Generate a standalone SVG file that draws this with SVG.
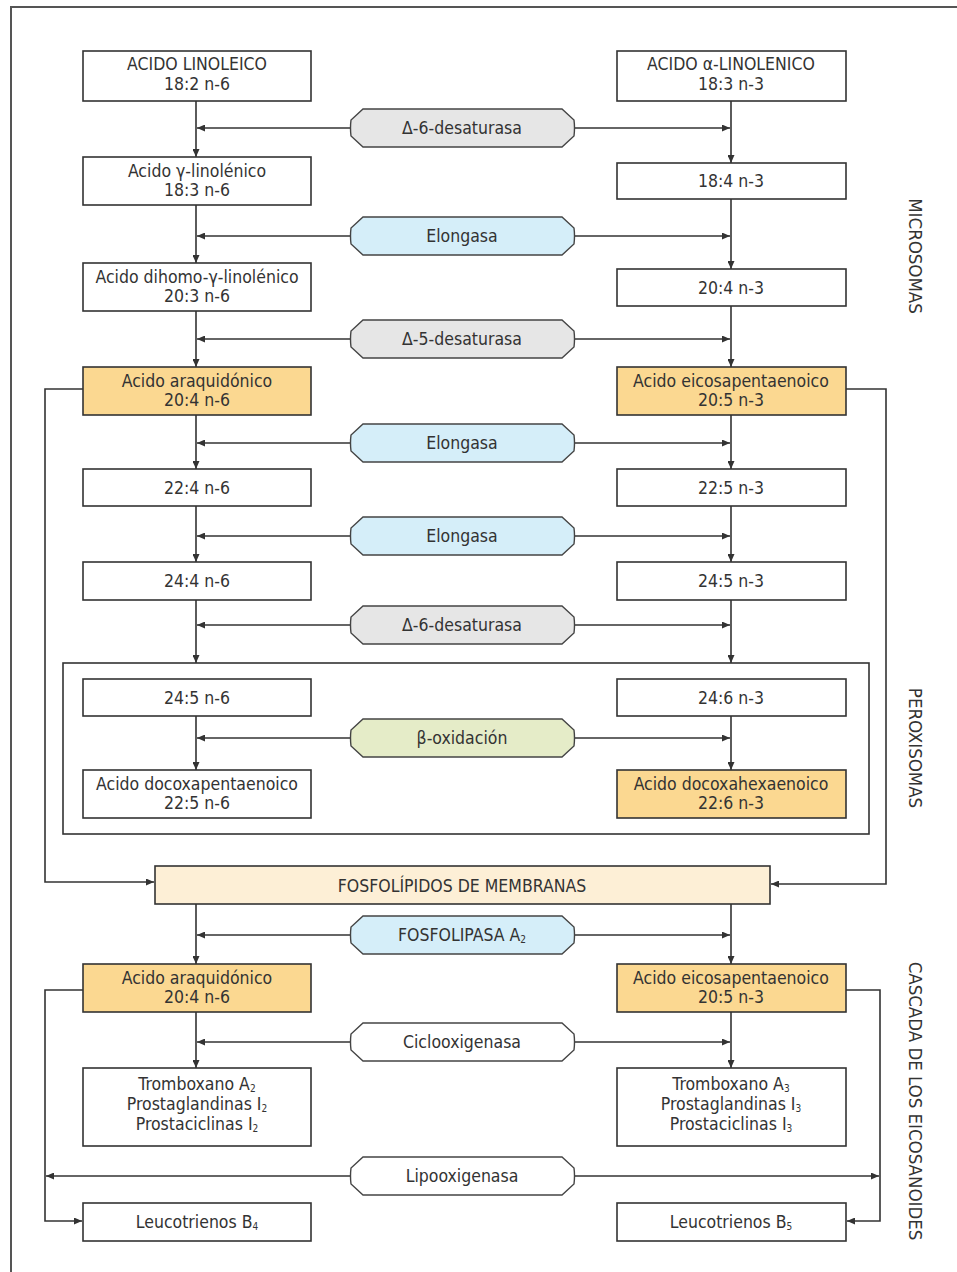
<svg xmlns="http://www.w3.org/2000/svg" width="957" height="1272" viewBox="0 0 957 1272">
<defs>
<marker id="ah" markerUnits="userSpaceOnUse" markerWidth="9" markerHeight="7" refX="8" refY="3.5" orient="auto"><path d="M0,0 L8,3.5 L0,7 Z" fill="#333"/></marker>
<style>
text{font-family:"Liberation Sans Narrow","DejaVu Sans Condensed","Liberation Sans",sans-serif;fill:#333;font-size:17.5px;text-anchor:middle}
.box{fill:#fff;stroke:#333;stroke-width:1.6}
.or{fill:#fbd891;stroke:#333;stroke-width:1.6}
.fos{fill:#fdefd6;stroke:#333;stroke-width:1.6}
.enz{stroke:#444;stroke-width:1.4}
.g{fill:#e6e6e6}.b{fill:#d5eef9}.gr{fill:#e5ecc8}.w{fill:#fff}
.c{fill:none;stroke:#333;stroke-width:1.6}
.a{marker-end:url(#ah)}
.side{font-size:18.5px;text-anchor:middle}
.sub{font-size:10px}
</style>
<path id="enzShape" d="M12,-19 L211,-19 L223,-8 Q224,0 223,8 L211,19 L12,19 L0,8 Q-1,0 0,-8 Z"/>
</defs>
<rect x="11" y="7" width="960" height="1280" fill="#fff" stroke="#555" stroke-width="2"/>

<g id="connectors">
<path class="c a" d="M196,101 V157"/>
<path class="c a" d="M196,205 V263"/>
<path class="c a" d="M196,311 V367"/>
<path class="c a" d="M196,415 V469"/>
<path class="c a" d="M196,506 V562"/>
<path class="c a" d="M196,600 V663"/>
<path class="c a" d="M196,716 V770"/>
<path class="c a" d="M196,904 V964"/>
<path class="c a" d="M196,1012 V1068"/>
<path class="c a" d="M731,101 V163"/>
<path class="c a" d="M731,199 V269"/>
<path class="c a" d="M731,306 V367"/>
<path class="c a" d="M731,415 V469"/>
<path class="c a" d="M731,506 V562"/>
<path class="c a" d="M731,600 V663"/>
<path class="c a" d="M731,716 V770"/>
<path class="c a" d="M731,904 V964"/>
<path class="c a" d="M731,1012 V1068"/>
<path class="c a" d="M351,128 H197"/><path class="c a" d="M574,128 H730"/>
<path class="c a" d="M351,236 H197"/><path class="c a" d="M574,236 H730"/>
<path class="c a" d="M351,339 H197"/><path class="c a" d="M574,339 H730"/>
<path class="c a" d="M351,443 H197"/><path class="c a" d="M574,443 H730"/>
<path class="c a" d="M351,536 H197"/><path class="c a" d="M574,536 H730"/>
<path class="c a" d="M351,625 H197"/><path class="c a" d="M574,625 H730"/>
<path class="c a" d="M351,738 H197"/><path class="c a" d="M574,738 H730"/>
<path class="c a" d="M351,935 H197"/><path class="c a" d="M574,935 H730"/>
<path class="c a" d="M351,1042 H197"/><path class="c a" d="M574,1042 H730"/>
<path class="c a" d="M351,1176 H46"/><path class="c a" d="M574,1176 H879"/>
<path class="c a" d="M83,389 H45 V882 H154"/>
<path class="c a" d="M846,389 H886 V884 H771"/>
<path class="c a" d="M83,990 H45 V1221 H82"/>
<path class="c a" d="M846,990 H880 V1221 H847"/>
</g>

<g id="peroxisome-frame"><rect x="63" y="663" width="806" height="171" fill="none" stroke="#333" stroke-width="1.6"/></g>

<g id="n-linoleico"><rect class="box" x="83" y="51" width="228" height="50"/><text x="197" y="70">ACIDO LINOLEICO</text><text x="197" y="90">18:2 n-6</text></g>
<g id="n-alinolenico"><rect class="box" x="617" y="51" width="229" height="50"/><text x="731" y="70">ACIDO α-LINOLENICO</text><text x="731" y="90">18:3 n-3</text></g>
<g id="n-glinolenico"><rect class="box" x="83" y="157" width="228" height="48"/><text x="197" y="177">Acido γ-linolénico</text><text x="197" y="196">18:3 n-6</text></g>
<g id="n-184"><rect class="box" x="617" y="163" width="229" height="36"/><text x="731" y="187">18:4 n-3</text></g>
<g id="n-dihomo"><rect class="box" x="83" y="263" width="228" height="48"/><text x="197" y="283">Acido dihomo-γ-linolénico</text><text x="197" y="302">20:3 n-6</text></g>
<g id="n-204n3"><rect class="box" x="617" y="269" width="229" height="37"/><text x="731" y="293.5">20:4 n-3</text></g>
<g id="n-araq1"><rect class="or" x="83" y="367" width="228" height="48"/><text x="197" y="387">Acido araquidónico</text><text x="197" y="406">20:4 n-6</text></g>
<g id="n-epa1"><rect class="or" x="617" y="367" width="229" height="48"/><text x="731" y="387">Acido eicosapentaenoico</text><text x="731" y="406">20:5 n-3</text></g>
<g id="n-224"><rect class="box" x="83" y="469" width="228" height="37"/><text x="197" y="493.5">22:4 n-6</text></g>
<g id="n-225n3"><rect class="box" x="617" y="469" width="229" height="37"/><text x="731" y="493.5">22:5 n-3</text></g>
<g id="n-244"><rect class="box" x="83" y="562" width="228" height="38"/><text x="197" y="587">24:4 n-6</text></g>
<g id="n-245n3"><rect class="box" x="617" y="562" width="229" height="38"/><text x="731" y="587">24:5 n-3</text></g>
<g id="n-245n6"><rect class="box" x="83" y="679" width="228" height="37"/><text x="197" y="703.5">24:5 n-6</text></g>
<g id="n-246"><rect class="box" x="617" y="679" width="229" height="37"/><text x="731" y="703.5">24:6 n-3</text></g>
<g id="n-dpa"><rect class="box" x="83" y="770" width="228" height="48"/><text x="197" y="790">Acido docoxapentaenoico</text><text x="197" y="809">22:5 n-6</text></g>
<g id="n-dha"><rect class="or" x="617" y="770" width="229" height="48"/><text x="731" y="790">Acido docoxahexaenoico</text><text x="731" y="809">22:6 n-3</text></g>
<g id="n-fosfo"><rect class="fos" x="155" y="866" width="615" height="38"/><text x="462" y="892" font-size="19">FOSFOLÍPIDOS DE MEMBRANAS</text></g>
<g id="n-araq2"><rect class="or" x="83" y="964" width="228" height="48"/><text x="197" y="984">Acido araquidónico</text><text x="197" y="1003">20:4 n-6</text></g>
<g id="n-epa2"><rect class="or" x="617" y="964" width="229" height="48"/><text x="731" y="984">Acido eicosapentaenoico</text><text x="731" y="1003">20:5 n-3</text></g>
<g id="n-trombo2"><rect class="box" x="83" y="1068" width="228" height="78"/><text x="197" y="1090">Tromboxano A<tspan class="sub" dy="2">2</tspan></text><text x="197" y="1110">Prostaglandinas I<tspan class="sub" dy="2">2</tspan></text><text x="197" y="1130">Prostaciclinas I<tspan class="sub" dy="2">2</tspan></text></g>
<g id="n-trombo3"><rect class="box" x="617" y="1068" width="229" height="78"/><text x="731" y="1090">Tromboxano A<tspan class="sub" dy="2">3</tspan></text><text x="731" y="1110">Prostaglandinas I<tspan class="sub" dy="2">3</tspan></text><text x="731" y="1130">Prostaciclinas I<tspan class="sub" dy="2">3</tspan></text></g>
<g id="n-leuco4"><rect class="box" x="83" y="1203" width="228" height="38"/><text x="197" y="1228">Leucotrienos B<tspan class="sub" dy="2">4</tspan></text></g>
<g id="n-leuco5"><rect class="box" x="617" y="1203" width="229" height="38"/><text x="731" y="1228">Leucotrienos B<tspan class="sub" dy="2">5</tspan></text></g>

<g id="e-d6a"><use href="#enzShape" x="351" y="128" class="enz g"/><text x="462" y="134">Δ-6-desaturasa</text></g>
<g id="e-elo1"><use href="#enzShape" x="351" y="236" class="enz b"/><text x="462" y="242">Elongasa</text></g>
<g id="e-d5"><use href="#enzShape" x="351" y="339" class="enz g"/><text x="462" y="345">Δ-5-desaturasa</text></g>
<g id="e-elo2"><use href="#enzShape" x="351" y="443" class="enz b"/><text x="462" y="449">Elongasa</text></g>
<g id="e-elo3"><use href="#enzShape" x="351" y="536" class="enz b"/><text x="462" y="542">Elongasa</text></g>
<g id="e-d6b"><use href="#enzShape" x="351" y="625" class="enz g"/><text x="462" y="631">Δ-6-desaturasa</text></g>
<g id="e-box"><use href="#enzShape" x="351" y="738" class="enz gr"/><text x="462" y="744">β-oxidación</text></g>
<g id="e-pla2"><use href="#enzShape" x="351" y="935" class="enz b"/><text x="462" y="941">FOSFOLIPASA A<tspan class="sub" dy="2">2</tspan></text></g>
<g id="e-cox"><use href="#enzShape" x="351" y="1042" class="enz w"/><text x="462" y="1048">Ciclooxigenasa</text></g>
<g id="e-lox"><use href="#enzShape" x="351" y="1176" class="enz w"/><text x="462" y="1182">Lipooxigenasa</text></g>

<g id="labels">
<text class="side" transform="translate(909,256) rotate(90)">MICROSOMAS</text>
<text class="side" transform="translate(909,748) rotate(90)">PEROXISOMAS</text>
<text class="side" transform="translate(909,1101) rotate(90)">CASCADA DE LOS EICOSANOIDES</text>
</g>
</svg>
